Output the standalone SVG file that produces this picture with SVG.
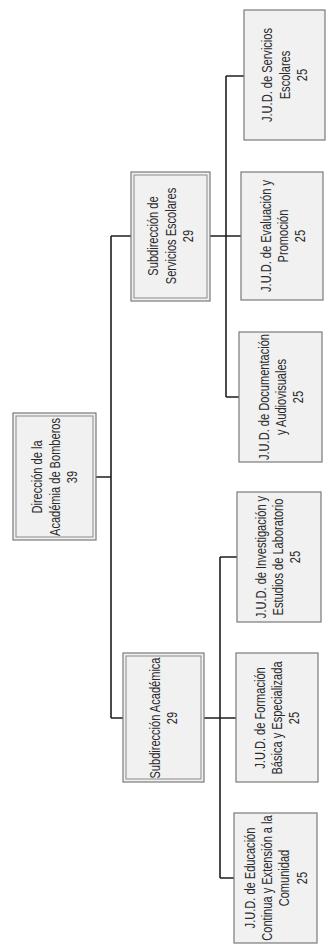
<svg xmlns="http://www.w3.org/2000/svg" width="328" height="951" viewBox="0 0 328 951">
<style>
.box{fill:#f1f1f1;stroke:#7a7a7a;stroke-width:1.2}
.inner{fill:none;stroke:#8a8a8a;stroke-width:1}
.lbl{font-family:"Liberation Sans",Arial,sans-serif;font-size:14px;fill:#2a2a2a;text-anchor:middle}
.conn{stroke:#1e1e1e;stroke-width:1.6;fill:none}
</style>
<rect width="328" height="951" fill="#ffffff"/>
<g id="connectors" class="conn">
<path d="M96,477H111M111,236V718M111,236H131M111,718H123"/>
<path d="M210,236H241M226,76V397M226,76H244M226,397H239"/>
<path d="M204,718H236M220,557V878M220,557H237M220,878H234"/>
</g>
<g id="direccion">
<rect class="box" x="13" y="413" width="83" height="127"/>
<rect class="inner" x="16" y="416" width="77" height="121"/>
<g transform="translate(54.5,477) rotate(-90) scale(0.79,1)"><text class="lbl" x="0" y="-12.5">Dirección de la</text><text class="lbl" x="0" y="5">Académia de Bomberos</text><text class="lbl" x="0" y="22.5">39</text></g>
</g>
<g id="subdir-servicios">
<rect class="box" x="131" y="172" width="79" height="129"/>
<rect class="inner" x="134" y="175" width="73" height="123"/>
<g transform="translate(170.5,236) rotate(-90) scale(0.79,1)"><text class="lbl" x="0" y="-12.5">Subdirección de</text><text class="lbl" x="0" y="5">Servicios Escolares</text><text class="lbl" x="0" y="22.5">29</text></g>
</g>
<g id="subdir-academica">
<rect class="box" x="123" y="653" width="81" height="129"/>
<rect class="inner" x="126" y="656" width="75" height="123"/>
<g transform="translate(163.5,718) rotate(-90) scale(0.79,1)"><text class="lbl" x="0" y="-4">Subdirección Académica</text><text class="lbl" x="0" y="13.5">29</text></g>
</g>
<g id="jud-servicios-escolares">
<rect class="box" x="244" y="10" width="81" height="130"/>
<g transform="translate(284.5,75) rotate(-90) scale(0.79,1)"><text class="lbl" x="0" y="-12.5">J.U.D. de Servicios</text><text class="lbl" x="0" y="5">Escolares</text><text class="lbl" x="0" y="22.5">25</text></g>
</g>
<g id="jud-evaluacion">
<rect class="box" x="241" y="172" width="82" height="128"/>
<g transform="translate(283,236) rotate(-90) scale(0.79,1)"><text class="lbl" x="0" y="-12.5">J.U.D. de Evaluación y</text><text class="lbl" x="0" y="5">Promoción</text><text class="lbl" x="0" y="22.5">25</text></g>
</g>
<g id="jud-documentacion">
<rect class="box" x="239" y="332" width="83" height="130"/>
<g transform="translate(281,397) rotate(-90) scale(0.79,1)"><text class="lbl" x="0" y="-12.5">J.U.D. de Documentación</text><text class="lbl" x="0" y="5">y Audiovisuales</text><text class="lbl" x="0" y="22.5">25</text></g>
</g>
<g id="jud-investigacion">
<rect class="box" x="237" y="492" width="84" height="130"/>
<g transform="translate(278,557) rotate(-90) scale(0.79,1)"><text class="lbl" x="0" y="-12.5">J.U.D. de Investigación y</text><text class="lbl" x="0" y="5">Estudios de Laboratorio</text><text class="lbl" x="0" y="22.5">25</text></g>
</g>
<g id="jud-formacion">
<rect class="box" x="236" y="653" width="82" height="129"/>
<g transform="translate(277,718) rotate(-90) scale(0.79,1)"><text class="lbl" x="0" y="-12.5">J.U.D. de Formación</text><text class="lbl" x="0" y="5">Básica y Especializada</text><text class="lbl" x="0" y="22.5">25</text></g>
</g>
<g id="jud-educacion">
<rect class="box" x="234" y="813" width="83" height="130"/>
<g transform="translate(275.5,878) rotate(-90) scale(0.79,1)"><text class="lbl" x="0" y="-21">J.U.D. de Educación</text><text class="lbl" x="0" y="-3.5">Continua y Extensión a la</text><text class="lbl" x="0" y="14">Comunidad</text><text class="lbl" x="0" y="31.5">25</text></g>
</g>
</svg>
